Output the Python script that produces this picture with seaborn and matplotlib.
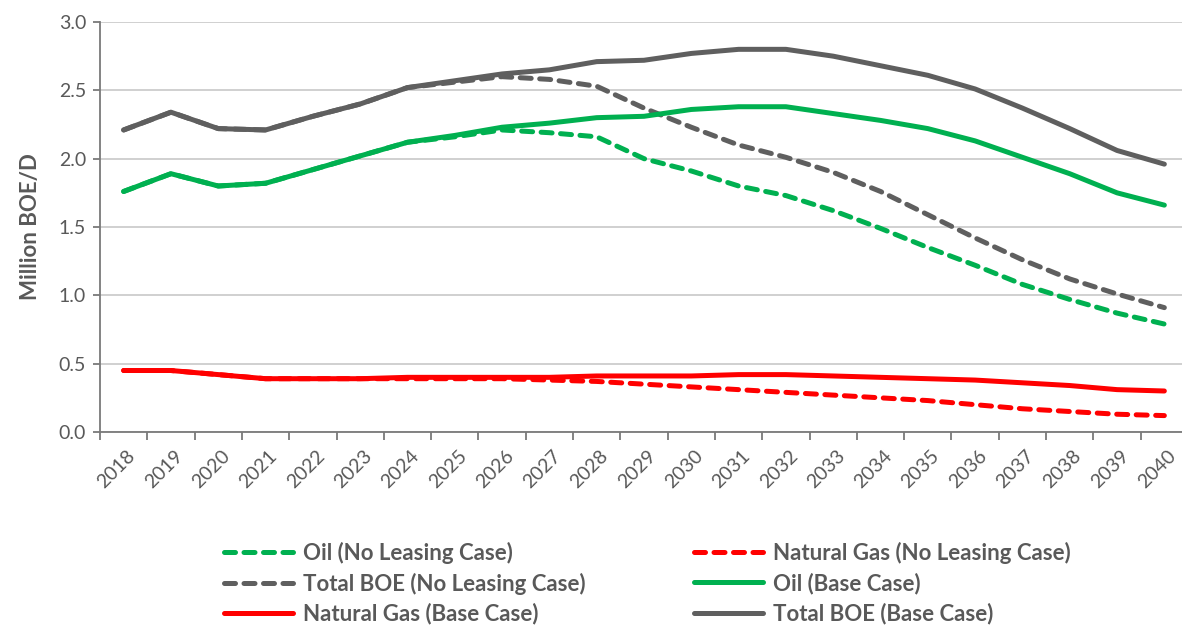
import numpy as np
import pandas as pd
import seaborn as sns
import matplotlib.pyplot as plt
from matplotlib.lines import Line2D
from matplotlib.transforms import ScaledTranslation

years = [str(y) for y in range(2018, 2041)]

oil_no_leasing = [1.76, 1.89, 1.80, 1.82, 1.92, 2.02, 2.12, 2.16, 2.21, 2.19, 2.16, 2.00,
                  1.91, 1.80, 1.73, 1.62, 1.49, 1.35, 1.22, 1.08, 0.97, 0.87, 0.79]
gas_no_leasing = [0.45, 0.45, 0.42, 0.39, 0.39, 0.39, 0.39, 0.39, 0.39, 0.38, 0.37, 0.35,
                  0.33, 0.31, 0.29, 0.27, 0.25, 0.23, 0.20, 0.17, 0.15, 0.13, 0.12]
total_no_leasing = [2.21, 2.34, 2.22, 2.21, 2.31, 2.40, 2.52, 2.56, 2.60, 2.58, 2.53, 2.37,
                    2.23, 2.10, 2.01, 1.90, 1.76, 1.59, 1.42, 1.26, 1.12, 1.01, 0.91]
oil_base = [1.76, 1.89, 1.80, 1.82, 1.92, 2.02, 2.12, 2.17, 2.23, 2.26, 2.30, 2.31,
            2.36, 2.38, 2.38, 2.33, 2.28, 2.22, 2.13, 2.01, 1.89, 1.75, 1.66]
gas_base = [0.45, 0.45, 0.42, 0.39, 0.39, 0.39, 0.40, 0.40, 0.40, 0.40, 0.41, 0.41,
            0.41, 0.42, 0.42, 0.41, 0.40, 0.39, 0.38, 0.36, 0.34, 0.31, 0.30]
total_base = [2.21, 2.34, 2.22, 2.21, 2.31, 2.40, 2.52, 2.57, 2.62, 2.65, 2.71, 2.72,
              2.77, 2.80, 2.80, 2.75, 2.68, 2.61, 2.51, 2.37, 2.22, 2.06, 1.96]

GREEN = "#00B050"
RED = "#FF0000"
GRAY = "#5F5F5F"
TEXT = "#595959"

series = [
    ("Oil (No Leasing Case)", oil_no_leasing, GREEN, True),
    ("Natural Gas (No Leasing Case)", gas_no_leasing, RED, True),
    ("Total BOE (No Leasing Case)", total_no_leasing, GRAY, True),
    ("Oil (Base Case)", oil_base, GREEN, False),
    ("Natural Gas (Base Case)", gas_base, RED, False),
    ("Total BOE (Base Case)", total_base, GRAY, False),
]

sns.set_style("white")
plt.rcParams["font.family"] = ["Lato", "DejaVu Sans"]

fig = plt.figure(figsize=(11.82, 6.26), dpi=100)
ax = fig.add_axes([100 / 1182, (626 - 432) / 626, 1088 / 1182, 410 / 626])

x = np.arange(len(years))
dash = (0, (2.2, 1.7))
handles = {}
for name, vals, color, dashed in series:
    sns.lineplot(x=x, y=vals, ax=ax, color=color, linewidth=3.6,
                 linestyle=dash if dashed else "-",
                 dash_capstyle="round", solid_capstyle="round", zorder=3)
    handles[name] = Line2D([], [], color=color, linewidth=3.6,
                           linestyle=dash if dashed else "-",
                           dash_capstyle="round")

ax.set_xlim(-0.5, len(years) - 0.5)
ax.set_ylim(0, 3.0)
ax.set_yticks(np.arange(0, 3.01, 0.5))
ax.set_yticklabels([f"{v:.1f}" for v in np.arange(0, 3.01, 0.5)])
ax.yaxis.grid(True, color="#D0D0D0", linewidth=1.4)
ax.set_axisbelow(True)

# category boundaries as ticks, labels at category centres
ax.set_xticks(np.arange(-0.5, len(years) - 0.5, 1.0))
ax.set_xticklabels([])
ax.set_xticks(x, minor=True)
ax.set_xticklabels(years, minor=True, rotation=45, ha="right", va="center",
                   rotation_mode="anchor")
ax.tick_params(axis="x", which="minor", length=0, pad=15, labelsize=14, labelcolor=TEXT)
offset = ScaledTranslation(9 / 100, 0, fig.dpi_scale_trans)
for lab in ax.get_xticklabels(minor=True):
    lab.set_transform(lab.get_transform() + offset)

ax.tick_params(axis="x", which="major", length=6, width=1.3, color="#7A7A7A",
               direction="out", bottom=True)
ax.tick_params(axis="y", length=5, width=1.3, color="#7A7A7A", direction="out",
               left=True, labelsize=14, labelcolor=TEXT, pad=5)

for side in ["top", "right"]:
    ax.spines[side].set_visible(False)
for side in ["left", "bottom"]:
    ax.spines[side].set_color("#7A7A7A")
    ax.spines[side].set_linewidth(1.3)

ax.set_ylabel("Million BOE/D", fontsize=16, fontweight="bold", color=TEXT, labelpad=13)

order = ["Oil (No Leasing Case)", "Total BOE (No Leasing Case)", "Natural Gas (Base Case)",
         "Natural Gas (No Leasing Case)", "Oil (Base Case)", "Total BOE (Base Case)"]
leg = fig.legend([handles[n] for n in order], order, ncol=2, frameon=False,
                 loc="upper left", bbox_to_anchor=(204 / 1182, 1 - 522 / 626),
                 fontsize=16, handlelength=3.1, handletextpad=0.45,
                 columnspacing=4.9, labelspacing=0.38)
for t in leg.get_texts():
    t.set_color(TEXT)
    t.set_fontweight("bold")

fig.savefig("out.png", dpi=100)
